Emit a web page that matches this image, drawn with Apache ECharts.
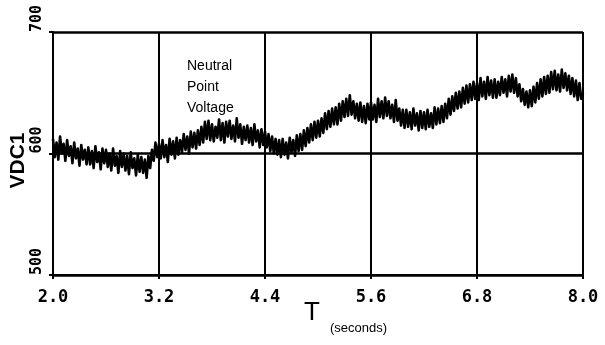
<!DOCTYPE html>
<html>
<head>
<meta charset="utf-8">
<script src="https://cdn.jsdelivr.net/npm/echarts@6.0.0/dist/echarts.min.js"></script>
<style>
  html, body { margin: 0; padding: 0; background: #fff; }
  #root { width: 605px; height: 345px; }
</style>
</head>
<body>
<div id="root"></div>
<script>
const tStart = 2.0;
const tStep = 0.02;

// VDC1 (one row = 0.2 s)
const vdc1 = [
  612, 597, 609, 595, 614, 600, 608, 594, 611, 598,
  606, 592, 609, 596, 604, 590, 607, 595, 603, 591,
  605, 591, 602, 588, 606, 593, 601, 587, 604, 592,
  603, 589, 600, 586, 604, 590, 598, 584, 602, 589,
  600, 586, 598, 583, 601, 588, 596, 582, 599, 585,
  597, 584, 595, 580, 598, 588, 603, 594, 609, 597,
  608, 596, 611, 597, 607, 593, 612, 599, 610, 596,
  613, 599, 611, 601, 616, 603, 614, 600, 618, 605,
  617, 604, 619, 607, 622, 609, 626, 612, 627, 611,
  624, 610, 622, 613, 628, 611, 625, 609, 626, 614,
  627, 612, 623, 610, 629, 613, 624, 608, 622, 611,
  623, 609, 621, 607, 624, 610, 619, 605, 620, 607,
  618, 605, 616, 602, 614, 600, 612, 599, 611, 597,
  612, 599, 609, 596, 613, 601, 611, 598, 615, 602,
  616, 603, 619, 606, 621, 609, 624, 611, 626, 613,
  627, 614, 629, 617, 633, 620, 635, 622, 637, 624,
  638, 624, 641, 627, 643, 630, 645, 631, 648, 632,
  643, 629, 641, 627, 642, 626, 639, 625, 641, 628,
  642, 628, 640, 626, 645, 630, 643, 629, 646, 631,
  643, 629, 640, 626, 644, 627, 637, 623, 636, 621,
  636, 622, 634, 620, 637, 623, 633, 619, 635, 621,
  634, 620, 636, 622, 633, 621, 638, 624, 637, 625,
  639, 626, 641, 629, 645, 632, 647, 635, 650, 637,
  651, 638, 654, 641, 656, 642, 657, 644, 659, 645,
  658, 644, 662, 647, 659, 645, 663, 648, 660, 646,
  661, 646, 659, 648, 663, 650, 661, 647, 664, 651,
  665, 650, 662, 647, 657, 643, 653, 640, 651, 638,
  652, 639, 655, 642, 658, 645, 661, 647, 663, 649,
  664, 650, 667, 653, 668, 652, 665, 651, 669, 654,
  666, 652, 664, 649, 662, 647, 660, 644, 658, 645,
  650
];

const xTicks = [2.0, 3.2, 4.4, 5.6, 6.8, 8.0];
const xTickLabels = ["2.0", "3.2", "4.4", "5.6", "6.8", "8.0"];
const yTicks = [500, 600, 700];
const yTickLabels = ["500", "600", "700"];

const points = vdc1.map((v, i) => [+(tStart + i * tStep).toFixed(2), v]);

const chart = echarts.init(document.getElementById("root"), null, { renderer: "canvas" });

const tickFont = { fontFamily: "DejaVu Sans Mono", fontWeight: "bold", color: "#000" };

const option = {
  backgroundColor: "#fff",
  animation: false,
  grid: { left: 53, right: 22, top: 32, bottom: 70, containLabel: false, outerBoundsMode: "none" },
  xAxis: {
    type: "value",
    min: 2.0,
    max: 8.0,
    name: "T",
    nameLocation: "middle",
    nameGap: 25,
    nameMoveOverlap: false,
    nameTextStyle: { fontFamily: "Liberation Sans Narrow, Liberation Sans", fontSize: 26, color: "#000", padding: [0, 12, 0, 0] },
    axisLine: { show: true, onZero: false, lineStyle: { color: "#000", width: 2 } },
    axisTick: { show: true, customValues: xTicks, length: 4, inside: false, lineStyle: { color: "#000", width: 2 } },
    axisLabel: {
      customValues: xTicks,
      formatter: (v) => xTickLabels[xTicks.findIndex((t) => Math.abs(t - v) < 1e-6)] || "",
      margin: 14,
      fontSize: 17,
      ...tickFont,
    },
    splitLine: { show: false },
  },
  yAxis: {
    type: "value",
    min: 500,
    max: 700,
    name: "VDC1",
    nameLocation: "middle",
    nameRotate: 90,
    nameGap: 24,
    nameMoveOverlap: false,
    nameTextStyle: { fontFamily: "Liberation Sans", fontWeight: "bold", fontSize: 21, color: "#000", padding: [0, 0, 0, -14] },
    axisLine: { show: true, lineStyle: { color: "#000", width: 2 } },
    axisTick: { show: true, customValues: yTicks, length: 4, lineStyle: { color: "#000", width: 2 } },
    axisLabel: {
      customValues: yTicks,
      formatter: (v) => yTickLabels[yTicks.indexOf(v)] || "",
      rotate: 90,
      align: "left",
      verticalAlign: "middle",
      margin: 16,
      fontSize: 15,
      ...tickFont,
    },
    splitLine: { show: true, lineStyle: { color: "#000", width: 2.5 } },
  },
  series: [
    {
      type: "line",
      data: points,
      showSymbol: false,
      sampling: null,
      lineStyle: { color: "#000", width: 2.6, join: "round" },
      markLine: {
        silent: true,
        symbol: "none",
        label: { show: false },
        lineStyle: { color: "#000", width: 2, type: "solid" },
        data: xTicks.map((t) => ({ xAxis: t })),
      },
    },
  ],
  graphic: [
    {
      type: "text",
      left: 187,
      top: 56,
      style: {
        text: "Neutral\nPoint\nVoltage",
        font: "14px 'Liberation Sans', Arial, sans-serif",
        lineHeight: 21,
        fill: "#000",
      },
    },
    {
      type: "text",
      left: 330,
      top: 322,
      style: {
        text: "(seconds)",
        font: "13px 'Liberation Sans', Arial, sans-serif",
        fill: "#000",
      },
    },
  ],
};

chart.setOption(option);
</script>
</body>
</html>
